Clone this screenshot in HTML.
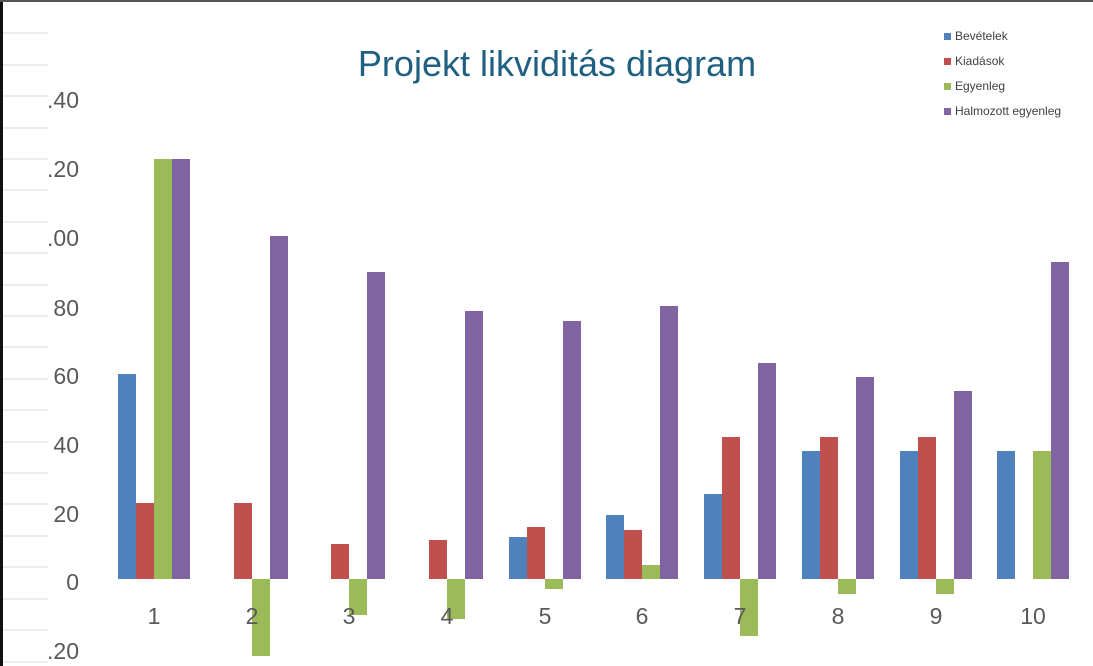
<!DOCTYPE html>
<html><head><meta charset="utf-8"><style>
html,body{margin:0;padding:0;background:#fff;}
svg{display:block;font-family:"Liberation Sans",sans-serif;}
</style></head><body>
<svg width="1093" height="666" viewBox="0 0 1093 666" xmlns="http://www.w3.org/2000/svg">
<rect width="1093" height="666" fill="#fff"/>
<rect x="0" y="0" width="3" height="666" fill="#111"/>
<rect x="0" y="0" width="1093" height="2" fill="#555"/>
<g stroke="#d9d9d9" stroke-width="1">
<line x1="3" x2="48" y1="33" y2="33"/><line x1="3" x2="48" y1="65" y2="65"/><line x1="3" x2="48" y1="96" y2="96"/><line x1="3" x2="48" y1="128" y2="128"/><line x1="3" x2="48" y1="159" y2="159"/><line x1="3" x2="48" y1="190" y2="190"/><line x1="3" x2="48" y1="222" y2="222"/><line x1="3" x2="48" y1="253" y2="253"/><line x1="3" x2="48" y1="285" y2="285"/><line x1="3" x2="48" y1="316" y2="316"/><line x1="3" x2="48" y1="347" y2="347"/><line x1="3" x2="48" y1="379" y2="379"/><line x1="3" x2="48" y1="410" y2="410"/><line x1="3" x2="48" y1="442" y2="442"/><line x1="3" x2="48" y1="473" y2="473"/><line x1="3" x2="48" y1="504" y2="504"/><line x1="3" x2="48" y1="536" y2="536"/><line x1="3" x2="48" y1="567" y2="567"/><line x1="3" x2="48" y1="599" y2="599"/><line x1="3" x2="48" y1="630" y2="630"/><line x1="3" x2="48" y1="662" y2="662"/>
</g>
<text x="557" y="76" text-anchor="middle" font-size="36" fill="#1f5f82">Projekt likviditás diagram</text>
<g font-size="23" fill="#595959" text-anchor="end">
<text x="79" y="108">.40</text><text x="79" y="177">.20</text><text x="79" y="246">.00</text>
<text x="79" y="316">80</text><text x="79" y="384">60</text><text x="79" y="453">40</text>
<text x="79" y="522">20</text><text x="79" y="590">0</text><text x="79" y="659">.20</text>
</g>
<g id="bars">
<rect x="118" y="374" width="18" height="205" fill="#4f81bd"/>
<rect x="136" y="503" width="18" height="76" fill="#c0504d"/>
<rect x="154" y="159" width="18" height="420" fill="#9bbb59"/>
<rect x="172" y="159" width="18" height="420" fill="#8064a2"/>
<rect x="234" y="503" width="18" height="76" fill="#c0504d"/>
<rect x="252" y="579" width="18" height="77" fill="#9bbb59"/>
<rect x="270" y="236" width="18" height="343" fill="#8064a2"/>
<rect x="331" y="544" width="18" height="35" fill="#c0504d"/>
<rect x="349" y="579" width="18" height="36" fill="#9bbb59"/>
<rect x="367" y="272" width="18" height="307" fill="#8064a2"/>
<rect x="429" y="540" width="18" height="39" fill="#c0504d"/>
<rect x="447" y="579" width="18" height="40" fill="#9bbb59"/>
<rect x="465" y="311" width="18" height="268" fill="#8064a2"/>
<rect x="509" y="537" width="18" height="42" fill="#4f81bd"/>
<rect x="527" y="527" width="18" height="52" fill="#c0504d"/>
<rect x="545" y="579" width="18" height="10" fill="#9bbb59"/>
<rect x="563" y="321" width="18" height="258" fill="#8064a2"/>
<rect x="606" y="515" width="18" height="64" fill="#4f81bd"/>
<rect x="624" y="530" width="18" height="49" fill="#c0504d"/>
<rect x="642" y="565" width="18" height="14" fill="#9bbb59"/>
<rect x="660" y="306" width="18" height="273" fill="#8064a2"/>
<rect x="704" y="494" width="18" height="85" fill="#4f81bd"/>
<rect x="722" y="437" width="18" height="142" fill="#c0504d"/>
<rect x="740" y="579" width="18" height="57" fill="#9bbb59"/>
<rect x="758" y="363" width="18" height="216" fill="#8064a2"/>
<rect x="802" y="451" width="18" height="128" fill="#4f81bd"/>
<rect x="820" y="437" width="18" height="142" fill="#c0504d"/>
<rect x="838" y="579" width="18" height="15" fill="#9bbb59"/>
<rect x="856" y="377" width="18" height="202" fill="#8064a2"/>
<rect x="900" y="451" width="18" height="128" fill="#4f81bd"/>
<rect x="918" y="437" width="18" height="142" fill="#c0504d"/>
<rect x="936" y="579" width="18" height="15" fill="#9bbb59"/>
<rect x="954" y="391" width="18" height="188" fill="#8064a2"/>
<rect x="997" y="451" width="18" height="128" fill="#4f81bd"/>
<rect x="1033" y="451" width="18" height="128" fill="#9bbb59"/>
<rect x="1051" y="262" width="18" height="317" fill="#8064a2"/>
</g>
<g font-size="23" fill="#595959" text-anchor="middle">
<text x="154" y="624">1</text><text x="252" y="624">2</text><text x="349" y="624">3</text><text x="447" y="624">4</text><text x="545" y="624">5</text><text x="642" y="624">6</text><text x="740" y="624">7</text><text x="838" y="624">8</text><text x="936" y="624">9</text><text x="1033" y="624">10</text>
</g>
<g font-size="12" fill="#404040">
<rect x="944" y="33" width="7" height="7" fill="#4f81bd"/><text x="955" y="40">Bevételek</text>
<rect x="944" y="58" width="7" height="7" fill="#c0504d"/><text x="955" y="65">Kiadások</text>
<rect x="944" y="83" width="7" height="7" fill="#9bbb59"/><text x="955" y="90">Egyenleg</text>
<rect x="944" y="108" width="7" height="7" fill="#8064a2"/><text x="955" y="115">Halmozott egyenleg</text>
</g>
</svg>
</body></html>
